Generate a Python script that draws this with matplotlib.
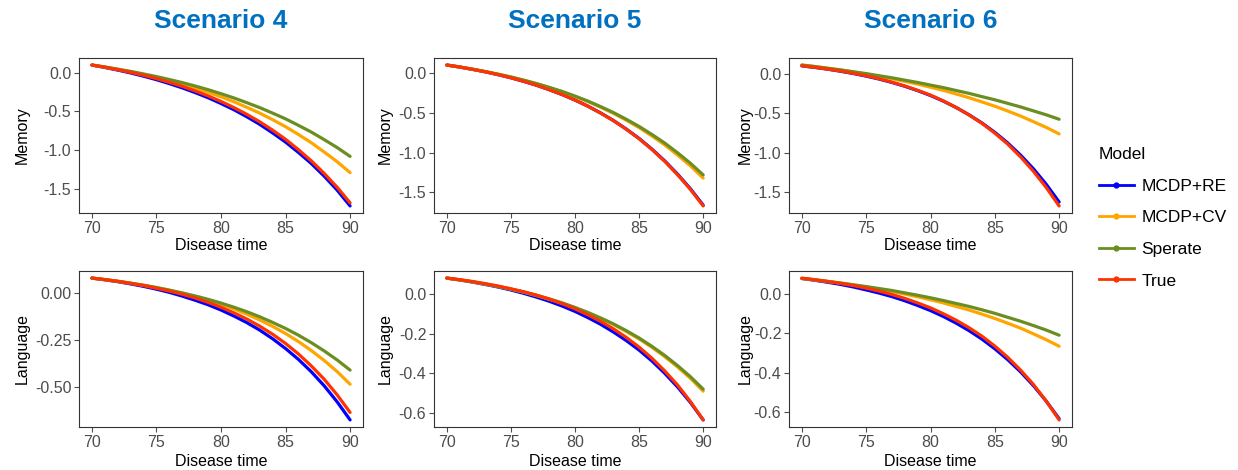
import matplotlib
matplotlib.use("Agg")
import matplotlib.pyplot as plt
from matplotlib.lines import Line2D

plt.rcParams['font.family'] = ['Liberation Sans', 'DejaVu Sans']
plt.rcParams['axes.unicode_minus'] = False

# ---------------- data ----------------
time = list(range(70, 91))
models = ["MCDP+RE", "MCDP+CV", "Sperate", "True"]
scenarios = ["Scenario 4", "Scenario 5", "Scenario 6"]
outcomes = ["Memory", "Language"]

# Scenario 4
s4_mem_re = [0.10, 0.069, 0.035, -0.002, -0.044, -0.089, -0.140, -0.195, -0.256, -0.322, -0.397,
             -0.477, -0.568, -0.666, -0.777, -0.895, -1.029, -1.173, -1.336, -1.516, -1.72]
s4_mem_cv = [0.10, 0.074, 0.044, 0.013, -0.023, -0.061, -0.103, -0.148, -0.198, -0.251, -0.310,
             -0.374, -0.446, -0.521, -0.606, -0.696, -0.797, -0.904, -1.024, -1.149, -1.29]
s4_mem_sep = [0.10, 0.075, 0.047, 0.018, -0.015, -0.049, -0.087, -0.127, -0.171, -0.218, -0.270,
              -0.325, -0.386, -0.450, -0.521, -0.595, -0.679, -0.766, -0.864, -0.966, -1.08]
s4_mem_true = [0.10, 0.072, 0.040, 0.006, -0.033, -0.075, -0.123, -0.175, -0.234, -0.298, -0.370,
               -0.449, -0.537, -0.633, -0.741, -0.859, -0.993, -1.138, -1.301, -1.479, -1.68]
s4_lan_re = [0.08, 0.071, 0.061, 0.049, 0.036, 0.021, 0.004, -0.016, -0.038, -0.062, -0.090,
             -0.122, -0.157, -0.197, -0.243, -0.295, -0.353, -0.419, -0.494, -0.579, -0.675]
s4_lan_cv = [0.08, 0.072, 0.063, 0.053, 0.042, 0.029, 0.015, -0.001, -0.019, -0.038, -0.060,
             -0.084, -0.112, -0.143, -0.177, -0.215, -0.258, -0.306, -0.359, -0.418, -0.485]
s4_lan_sep = [0.08, 0.072, 0.063, 0.053, 0.042, 0.030, 0.016, 0.001, -0.015, -0.033, -0.053,
              -0.075, -0.099, -0.126, -0.156, -0.188, -0.224, -0.264, -0.308, -0.356, -0.410]
s4_lan_true = [0.08, 0.072, 0.063, 0.052, 0.040, 0.026, 0.011, -0.006, -0.026, -0.049, -0.075,
               -0.105, -0.138, -0.176, -0.219, -0.268, -0.324, -0.388, -0.459, -0.542, -0.635]

# Scenario 5
s5_mem_re = [0.10, 0.075, 0.046, 0.015, -0.021, -0.060, -0.105, -0.154, -0.210, -0.271, -0.340,
             -0.416, -0.502, -0.597, -0.704, -0.822, -0.956, -1.104, -1.270, -1.453, -1.66]
s5_mem_cv = [0.10, 0.076, 0.048, 0.018, -0.015, -0.051, -0.091, -0.134, -0.183, -0.236, -0.295,
             -0.359, -0.430, -0.507, -0.593, -0.686, -0.791, -0.903, -1.030, -1.166, -1.32]
s5_mem_sep = [0.10, 0.076, 0.048, 0.018, -0.015, -0.050, -0.090, -0.133, -0.181, -0.232, -0.290,
              -0.352, -0.422, -0.497, -0.581, -0.671, -0.772, -0.880, -1.002, -1.133, -1.28]
s5_mem_true = [0.10, 0.075, 0.046, 0.015, -0.021, -0.060, -0.105, -0.154, -0.210, -0.271, -0.340,
               -0.417, -0.504, -0.599, -0.707, -0.826, -0.961, -1.110, -1.278, -1.462, -1.67]
s5_lan_re = [0.08, 0.071, 0.060, 0.048, 0.035, 0.020, 0.003, -0.016, -0.037, -0.061, -0.088,
             -0.119, -0.153, -0.192, -0.235, -0.283, -0.338, -0.400, -0.469, -0.547, -0.635]
s5_lan_cv = [0.08, 0.071, 0.061, 0.050, 0.038, 0.024, 0.009, -0.008, -0.027, -0.047, -0.070,
             -0.095, -0.123, -0.154, -0.189, -0.227, -0.269, -0.316, -0.368, -0.425, -0.490]
s5_lan_sep = [0.08, 0.071, 0.061, 0.050, 0.038, 0.025, 0.010, -0.007, -0.025, -0.045, -0.068,
              -0.093, -0.121, -0.151, -0.185, -0.222, -0.264, -0.310, -0.361, -0.417, -0.480]
s5_lan_true = [0.08, 0.072, 0.063, 0.052, 0.040, 0.026, 0.011, -0.006, -0.026, -0.049, -0.075,
               -0.105, -0.138, -0.176, -0.219, -0.268, -0.324, -0.388, -0.459, -0.542, -0.635]

# Scenario 6
s6_mem_re = [0.10, 0.080, 0.058, 0.032, 0.003, -0.030, -0.067, -0.110, -0.158, -0.213, -0.275,
             -0.346, -0.427, -0.519, -0.622, -0.740, -0.874, -1.027, -1.200, -1.397, -1.62]
s6_mem_cv = [0.11, 0.091, 0.069, 0.047, 0.022, -0.004, -0.033, -0.063, -0.096, -0.131, -0.170,
             -0.210, -0.256, -0.303, -0.356, -0.410, -0.471, -0.534, -0.605, -0.678, -0.76]
s6_mem_sep = [0.11, 0.091, 0.070, 0.049, 0.025, 0.002, -0.025, -0.051, -0.081, -0.110, -0.143,
              -0.175, -0.212, -0.248, -0.289, -0.329, -0.374, -0.419, -0.469, -0.519, -0.575]
s6_mem_true = [0.10, 0.081, 0.059, 0.034, 0.006, -0.026, -0.063, -0.106, -0.154, -0.209, -0.270,
               -0.343, -0.426, -0.521, -0.627, -0.750, -0.889, -1.050, -1.232, -1.438, -1.67]
s6_lan_re = [0.078, 0.069, 0.059, 0.048, 0.035, 0.020, 0.004, -0.014, -0.035, -0.059, -0.085,
             -0.115, -0.149, -0.187, -0.230, -0.279, -0.334, -0.396, -0.466, -0.545, -0.634]
s6_lan_cv = [0.078, 0.071, 0.063, 0.055, 0.045, 0.035, 0.024, 0.012, -0.001, -0.015, -0.030,
             -0.046, -0.064, -0.082, -0.103, -0.125, -0.149, -0.174, -0.203, -0.233, -0.266]
s6_lan_sep = [0.078, 0.071, 0.063, 0.055, 0.046, 0.037, 0.027, 0.017, 0.005, -0.007, -0.020,
              -0.034, -0.049, -0.064, -0.081, -0.099, -0.119, -0.139, -0.161, -0.184, -0.210]
s6_lan_true = [0.08, 0.072, 0.063, 0.053, 0.042, 0.029, 0.014, -0.003, -0.023, -0.046, -0.071,
               -0.101, -0.134, -0.172, -0.215, -0.265, -0.322, -0.387, -0.460, -0.545, -0.640]

x_ticks = [70, 75, 80, 85, 90]
mem_ticks = [0.0, -0.5, -1.0, -1.5]
mem_ticklabels = ["0.0", "-0.5", "-1.0", "-1.5"]
s4_lan_ticks = [0.0, -0.25, -0.50]
s4_lan_ticklabels = ["0.00", "-0.25", "-0.50"]
lan_ticks = [0.0, -0.2, -0.4, -0.6]
lan_ticklabels = ["0.0", "-0.2", "-0.4", "-0.6"]

# ---------------- styling ----------------
colors = ["#0000FF", "#FFA500", "#6B8E23", "#FF3300"]
W, H = 1238, 470
fig = plt.figure(figsize=(W / 100, H / 100), dpi=100)

col_x = [(79, 363), (434, 716), (789, 1072)]
row_y = [(58, 213), (271, 427)]
ylabel_px = [22, 385, 745]
xlabel_px = [245, 461]

panels = [
    [(s4_mem_re, s4_mem_cv, s4_mem_sep, s4_mem_true), (s4_lan_re, s4_lan_cv, s4_lan_sep, s4_lan_true)],
    [(s5_mem_re, s5_mem_cv, s5_mem_sep, s5_mem_true), (s5_lan_re, s5_lan_cv, s5_lan_sep, s5_lan_true)],
    [(s6_mem_re, s6_mem_cv, s6_mem_sep, s6_mem_true), (s6_lan_re, s6_lan_cv, s6_lan_sep, s6_lan_true)],
]
yticks = [
    [(mem_ticks, mem_ticklabels), (s4_lan_ticks, s4_lan_ticklabels)],
    [(mem_ticks, mem_ticklabels), (lan_ticks, lan_ticklabels)],
    [(mem_ticks, mem_ticklabels), (lan_ticks, lan_ticklabels)],
]

grey = "#4D4D4D"
for c in range(3):
    x0, x1 = col_x[c]
    for r in range(2):
        y0, y1 = row_y[r]
        ax = fig.add_axes([x0 / W, 1 - y1 / H, (x1 - x0) / W, (y1 - y0) / H])
        for series, col in zip(panels[c][r], colors):
            ax.plot(time, series, color=col, lw=2.3, solid_capstyle='round')
        ax.margins(x=0.05, y=0.05)
        ax.set_xticks(x_ticks)
        ax.set_xticklabels([str(t) for t in x_ticks])
        tk, tl = yticks[c][r]
        ax.set_yticks(tk)
        ax.set_yticklabels(tl)
        ax.tick_params(axis='both', labelsize=11.5, colors=grey, labelcolor=grey,
                       length=3.5, width=0.8, pad=2)
        for sp in ax.spines.values():
            sp.set_color("#333333")
            sp.set_linewidth(0.8)
        xl = ax.set_xlabel("Disease time", fontsize=11.5, color="black")
        ax.xaxis.set_label_coords(0.5, -(xlabel_px[r] - y1) / (y1 - y0))
        xl.set_va('center')
        yl = ax.set_ylabel(outcomes[r], fontsize=11.5, color="black")
        ax.yaxis.set_label_coords((ylabel_px[c] - x0) / (x1 - x0), 0.5)
        yl.set_va('center')
    fig.text((x0 + x1) / 2 / W, 1 - 21 / H, scenarios[c], ha='center', va='center',
             fontsize=19, fontweight='bold', color="#0070C0")

handles = [Line2D([0], [0], color=col, lw=2, marker='o', markersize=3.5) for col in colors]
leg = fig.legend(handles, models, title="Model", loc='upper left',
                 bbox_to_anchor=(1092 / W, 1 - 140 / H), frameon=False,
                 fontsize=12.5, title_fontsize=12.5, handlelength=2.0,
                 labelspacing=0.95, handletextpad=0.45, borderaxespad=0)
leg._legend_box.align = "left"

fig.savefig("out.png", dpi=100)
